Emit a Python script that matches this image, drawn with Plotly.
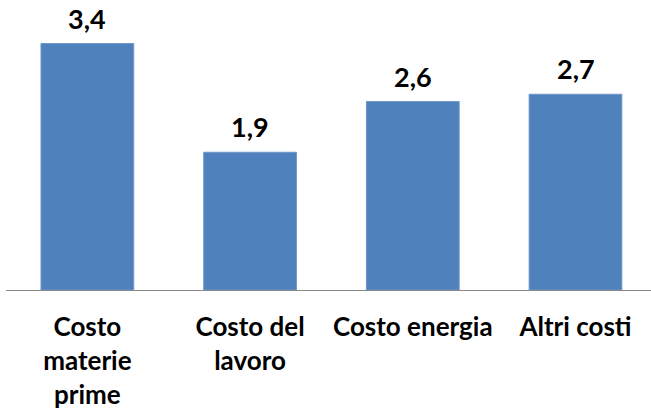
import plotly.graph_objects as go

categorie = ["Costo<br>materie<br>prime", "Costo del<br>lavoro", "Costo energia", "Altri costi"]
valori = [3.4, 1.9, 2.6, 2.7]

blu = "#4F81BD"
font_nome = "Lato, Liberation Sans, sans-serif"

fig = go.Figure(go.Bar(
    x=list(range(len(categorie))),
    y=valori,
    marker=dict(color=blu, line=dict(color="#6F97C9", width=1)),
    hoverinfo="skip",
))

# etichette dei valori con la virgola decimale
for i, v in enumerate(valori):
    fig.add_annotation(
        x=i, y=v, text="<b>%s</b>" % f"{v:.1f}".replace(".", ","),
        showarrow=False, yanchor="bottom", yshift=7,
        font=dict(family=font_nome, size=27, color="black"),
    )

fig.update_layout(
    width=651, height=412,
    margin=dict(l=6, r=0, t=0, b=122),
    paper_bgcolor="white", plot_bgcolor="white",
    bargap=0.43,
    showlegend=False,
    font=dict(family=font_nome, color="black"),
)
fig.update_xaxes(
    tickmode="array",
    tickvals=list(range(len(categorie))),
    ticktext=["<b>%s</b>" % c for c in categorie],
    tickfont=dict(family=font_nome, size=26, color="black"),
    ticklabelstandoff=14,
    range=[-0.5, 3.464],
    showline=True, linecolor="#888888", linewidth=1,
    showgrid=False, ticks="", zeroline=False, automargin=False,
)
fig.update_yaxes(
    range=[0, 4], visible=False, showgrid=False, zeroline=False, automargin=False,
)

# niente margine del body, la figura parte dall'angolo in alto
fig.write_html("out.html", config={"displayModeBar": False},
               post_script="document.body.style.margin='0';")
